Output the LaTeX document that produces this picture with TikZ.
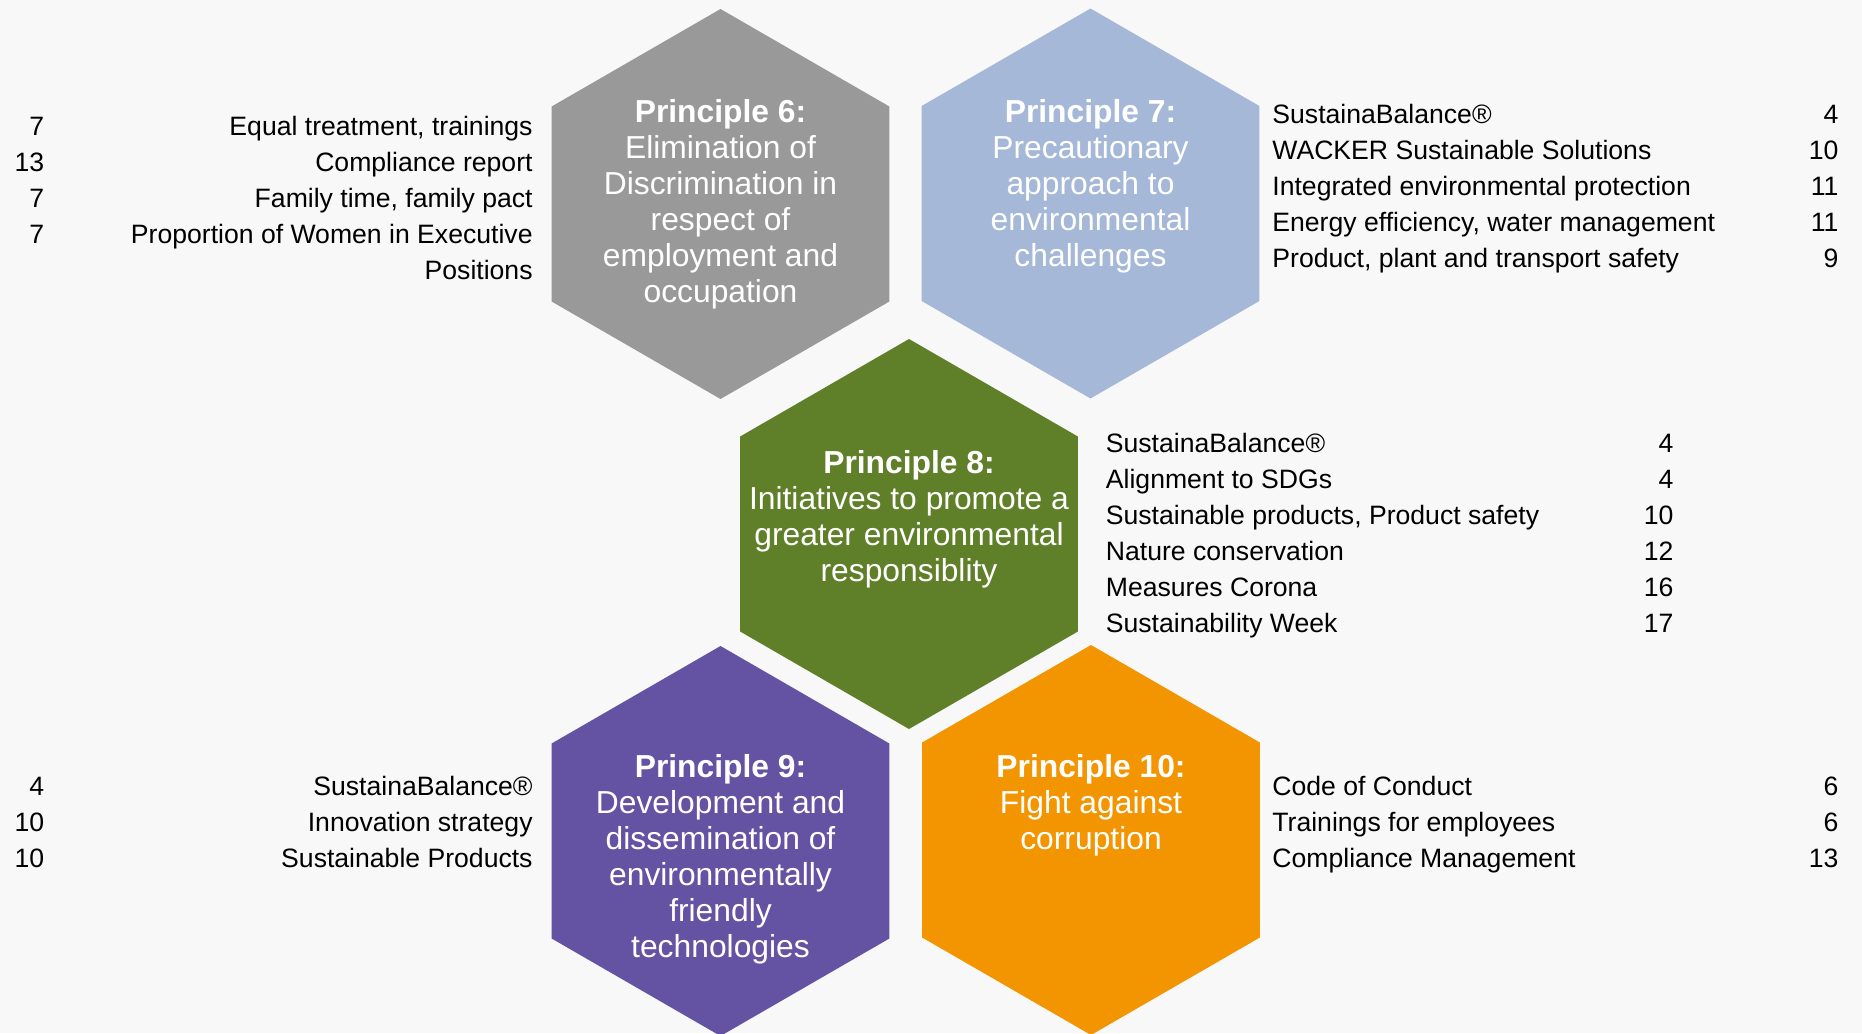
\documentclass[tikz,border=0pt]{standalone}
\usepackage{fontspec}
\setmainfont{Liberation Sans}
\usepackage{xcolor}
\definecolor{pagegrey}{HTML}{F8F8F8}
\definecolor{hexgrey}{HTML}{999999}
\definecolor{hexblue}{HTML}{A5B8D7}
\definecolor{hexgreen}{HTML}{5F7F29}
\definecolor{hexpurple}{HTML}{6453A2}
\definecolor{hexorange}{HTML}{F39500}
\usepackage{tikz}
\usetikzlibrary{positioning, shapes.geometric}

\begin{document}
\begin{tikzpicture}[x=0.5pt, y=-0.5pt,
        every node/.style={font=\fontsize{13.3}{18}\selectfont, inner sep=0pt},
        hexagon/.style={regular polygon, regular polygon sides=6, shape border rotate=30,
            minimum size=195pt, outer sep=0pt},
        hextext/.style={anchor=base, text=white, font=\fontsize{15.9}{18}\selectfont},
        leftlist/.style={anchor=base east},
        rightlist/.style={anchor=base west}]
            \useasboundingbox (0, 0) rectangle (1862, 1033);
            \fill[pagegrey] (0, 0) rectangle (1862, 1033);
            \foreach \name/\cx/\cy/\col in {p6/720.5/204/hexgrey, p7/1090.5/203.5/hexblue,
                    p8/909/534/hexgreen, p9/720.5/841/hexpurple, p10/1091/840/hexorange}
                \node[hexagon, fill=\col] (\name) at (\cx, \cy) {};
            % principle texts
            \node[hextext] (t6) at (720.5, 122.5) {\begin{tabular}[t]{@{}c@{}}\textbf{Principle 6:}\\
                Elimination of\\ Discrimination in\\ respect of\\ employment and\\ occupation\end{tabular}};
            \node[hextext] (t7) at (1090.5, 122.5) {\begin{tabular}[t]{@{}c@{}}\textbf{Principle 7:}\\
                Precautionary\\ approach to\\ environmental\\ challenges\end{tabular}};
            \node[hextext] (t8) at (909, 473.5) {\begin{tabular}[t]{@{}c@{}}\textbf{Principle 8:}\\
                Initiatives to promote a\\ greater environmental\\ responsiblity\end{tabular}};
            \node[hextext] (t9) at (720.5, 777.5) {\begin{tabular}[t]{@{}c@{}}\textbf{Principle 9:}\\
                Development and\\ dissemination of\\ environmentally\\ friendly\\ technologies\end{tabular}};
            \node[hextext] (t10) at (1091, 777.5) {\begin{tabular}[t]{@{}c@{}}\textbf{Principle 10:}\\
                Fight against\\ corruption\end{tabular}};
            % page lists
            \node[leftlist] (l6) at (533, 135) {\begin{tabular*}{259pt}[t]{@{\extracolsep{\fill}}rr@{}}
                7 & Equal treatment, trainings\\ 13 & Compliance report\\ 7 & Family time, family pact\\
                7 & Proportion of Women in Executive\\ & Positions\end{tabular*}};
            \node[rightlist] (l7) at (1272, 123.5) {\begin{tabular*}{283pt}[t]{@{\extracolsep{\fill}}lr@{}}
                SustainaBalance® & 4\\ WACKER Sustainable Solutions & 10\\ Integrated environmental protection & 11\\
                Energy efficiency, water management & 11\\ Product, plant and transport safety & 9\end{tabular*}};
            \node[rightlist] (l8) at (1105.5, 452.5) {\begin{tabular*}{283.75pt}[t]{@{\extracolsep{\fill}}lr@{}}
                SustainaBalance® & 4\\ Alignment to SDGs & 4\\ Sustainable products, Product safety & 10\\
                Nature conservation & 12\\ Measures Corona & 16\\ Sustainability Week & 17\end{tabular*}};
            \node[leftlist] (l9) at (533, 795.5) {\begin{tabular*}{259pt}[t]{@{\extracolsep{\fill}}rr@{}}
                4 & SustainaBalance®\\ 10 & Innovation strategy\\ 10 & Sustainable Products\end{tabular*}};
            \node[rightlist] (l10) at (1272, 795.5) {\begin{tabular*}{283pt}[t]{@{\extracolsep{\fill}}lr@{}}
                Code of Conduct & 6\\ Trainings for employees & 6\\ Compliance Management & 13\end{tabular*}};
        \end{tikzpicture}
\end{document}
